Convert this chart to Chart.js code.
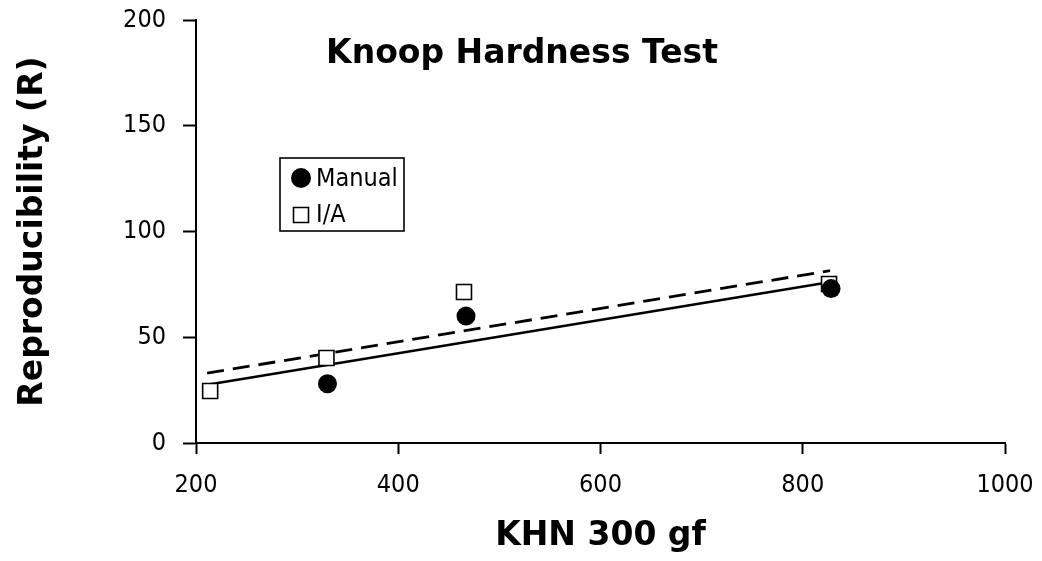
<!DOCTYPE html>
<html>
<head>
<meta charset="utf-8">
<script src="https://cdn.jsdelivr.net/npm/chart.js@4/dist/chart.umd.min.js"></script>
<style>
html,body{margin:0;padding:0;background:#fff;}
#wrap{width:1042px;height:561px;position:relative;}
</style>
</head>
<body>
<div id="wrap"><canvas id="c" width="1042" height="561"></canvas></div>
<script>
const chartTitle = "Knoop Hardness Test";
const xAxisTitle = "KHN 300 gf";
const yAxisTitle = "Reproducibility (R)";
const seriesNames = ["Manual", "I/A"];

const manualX = [330, 467, 828];
const manualY = [28, 60, 73];
const iaX = [214, 329, 465, 826];
const iaY = [24.6, 40.2, 71.4, 75.2];

const manualFitX = [214, 826];
const manualFitY = [27.8, 76.0];
const iaFitX = [211, 827];
const iaFitY = [33.0, 81.5];

const xTicks = [200, 400, 600, 800, 1000];
const yTicks = [0, 50, 100, 150, 200];

const toPts = (xs, ys) => xs.map((x, i) => ({x: x, y: ys[i]}));

const FONT = "'DejaVu Sans Condensed', 'DejaVu Sans', sans-serif";
const BOLD = "'DejaVu Sans', sans-serif";

const inPlotText = {
  id: 'inPlotText',
  afterDraw(chart) {
    const ctx = chart.ctx;
    ctx.save();
    // title
    ctx.fillStyle = '#000';
    ctx.font = "bold 33px " + BOLD;
    ctx.textAlign = 'center';
    ctx.textBaseline = 'alphabetic';
    ctx.fillText(chartTitle, 522, 63);
    // legend box
    const bx = 280, by = 158, bw = 124, bh = 73;
    ctx.lineWidth = 1.6;
    ctx.strokeStyle = '#000';
    ctx.strokeRect(bx, by, bw, bh);
    // Manual marker
    ctx.beginPath();
    ctx.arc(301, 178, 10, 0, Math.PI * 2);
    ctx.fillStyle = '#000';
    ctx.fill();
    // I/A marker
    ctx.beginPath();
    ctx.lineWidth = 1.6;
    ctx.fillStyle = '#fff';
    ctx.rect(293.5, 207.5, 15, 15);
    ctx.fill();
    ctx.stroke();
    ctx.fillStyle = '#000';
    ctx.font = "25px " + FONT;
    ctx.textAlign = 'left';
    ctx.textBaseline = 'middle';
    ctx.fillText(seriesNames[0], 316, 179);
    ctx.fillText(seriesNames[1], 316, 215);
    ctx.restore();
  }
};

new Chart(document.getElementById('c'), {
  type: 'scatter',
  data: {
    datasets: [
      {
        label: seriesNames[0] + ' fit',
        data: toPts(manualFitX, manualFitY),
        showLine: true,
        borderColor: '#000',
        borderWidth: 2.5,
        pointRadius: 0,
        fill: false,
        order: 3
      },
      {
        label: seriesNames[1] + ' fit',
        data: toPts(iaFitX, iaFitY),
        showLine: true,
        borderColor: '#000',
        borderWidth: 2.8,
        borderDash: [17, 9],
        pointRadius: 0,
        fill: false,
        order: 4
      },
      {
        label: seriesNames[0],
        data: toPts(manualX, manualY),
        pointStyle: 'circle',
        pointRadius: 9.5,
        pointBackgroundColor: '#000',
        pointBorderColor: '#000',
        pointBorderWidth: 0,
        order: 1
      },
      {
        label: seriesNames[1],
        data: toPts(iaX, iaY),
        pointStyle: 'rect',
        pointRadius: 10.6,
        pointBackgroundColor: '#fff',
        pointBorderColor: '#000',
        pointBorderWidth: 1.6,
        order: 2
      }
    ]
  },
  options: {
    responsive: false,
    animation: false,
    events: [],
    layout: { padding: { left: 0, top: 20, right: 37, bottom: 0 } },
    plugins: {
      legend: { display: false },
      tooltip: { enabled: false },
      title: { display: false }
    },
    scales: {
      x: {
        type: 'linear',
        min: 200, max: 1000,
        afterBuildTicks: (s) => { s.ticks = xTicks.map(v => ({value: v})); },
        afterFit: (s) => { s.height = 118; s.paddingLeft = 0; s.paddingRight = 0; s.paddingTop = 0; s.paddingBottom = 0; },
        border: { display: true, color: '#000', width: 2 },
        grid: { drawOnChartArea: false, drawTicks: true, tickLength: 11, tickWidth: 2, tickColor: '#000' },
        ticks: { color: '#000', padding: 16, font: { family: FONT, size: 25 }, maxRotation: 0, callback: (v) => String(v) },
        title: { display: true, text: xAxisTitle, color: '#000', font: { family: BOLD, size: 33, weight: 'bold', lineHeight: 1 }, padding: { top: 0, bottom: 8 } }
      },
      y: {
        type: 'linear',
        min: 0, max: 200,
        afterBuildTicks: (s) => { s.ticks = yTicks.map(v => ({value: v})); },
        afterFit: (s) => { s.width = 196; s.paddingLeft = 0; s.paddingRight = 0; s.paddingTop = 0; s.paddingBottom = 0; },
        border: { display: true, color: '#000', width: 2 },
        grid: { drawOnChartArea: false, drawTicks: true, tickLength: 13, tickWidth: 2, tickColor: '#000' },
        ticks: { color: '#000', padding: 17, font: { family: FONT, size: 25 }, callback: (v) => String(v) },
        title: { display: true, text: yAxisTitle, color: '#000', font: { family: BOLD, size: 33, weight: 'bold', lineHeight: 1 }, padding: { top: 17, bottom: 0 } }
      }
    }
  },
  plugins: [inPlotText]
});
</script>
</body>
</html>
